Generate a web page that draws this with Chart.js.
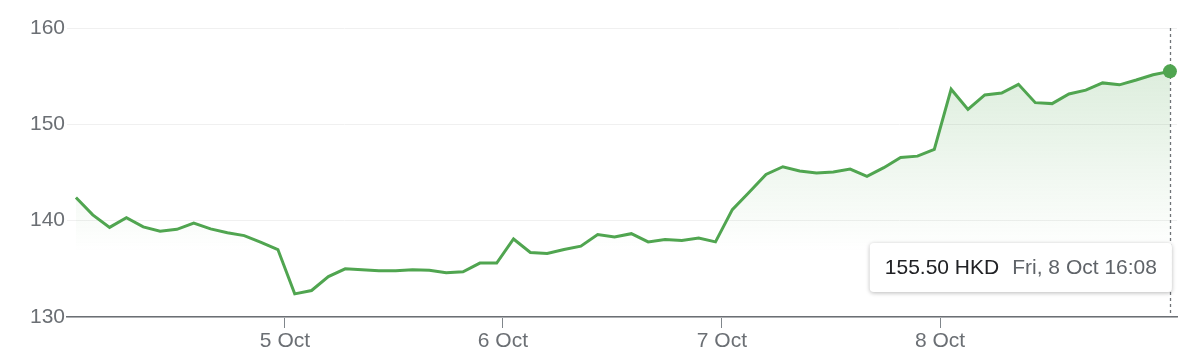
<!DOCTYPE html>
<html>
<head>
<meta charset="utf-8">
<script src="https://cdn.jsdelivr.net/npm/chart.js@4.4.1/dist/chart.umd.min.js"></script>
<style>
    html, body { margin: 0; padding: 0; background: #ffffff; }
    #wrap { width: 1188px; height: 364px; position: relative; }
</style>
</head>
<body>
<div id="wrap"><canvas id="chart"></canvas></div>
<script>
// 30-minute closes, 4 Oct - 8 Oct (index = sample number)
const prices = [
    142.4, 140.6, 139.3, 140.3, 139.35, 138.9, 139.1, 139.75, 139.15, 138.75, 138.45, 137.75, 137.0,
    132.4, 132.75, 134.2, 135.0, 134.9, 134.8, 134.8, 134.9, 134.85, 134.6, 134.7, 135.6, 135.6,
    138.1, 136.7, 136.6, 137.0, 137.35, 138.55, 138.3, 138.65, 137.8, 138.05, 137.95, 138.2, 137.8,
    141.15, 142.95, 144.8, 145.6, 145.15, 144.95, 145.05, 145.35, 144.6, 145.5, 146.55, 146.7, 147.4,
    153.65, 151.55, 153.05, 153.25, 154.15, 152.25, 152.15, 153.15, 153.55, 154.3, 154.1, 154.6, 155.15, 155.5,
];

const dayTickPositions = [12.42, 25.37, 38.38, 51.34];
const dayTickLabels = ['5 Oct', '6 Oct', '7 Oct', '8 Oct'];
const yTicks = [130, 140, 150, 160];

const currency = 'HKD';
const lastTimeLabel = 'Fri, 8 Oct 16:08';

const lineColor = '#50a550';
const textGray = '#6b6f74';
const fontFamily = '"Liberation Sans", Arial, Helvetica, sans-serif';

const points = prices.map((v, i) => ({ x: i, y: v }));
const lastIndex = points.length - 1;

// dashed cursor line + price box for the last point
const hoverBox = {
    id: 'hoverBox',
    afterDatasetsDraw(chart) {
        const { ctx, chartArea } = chart;
        const meta = chart.getDatasetMeta(0);
        const pt = meta.data[lastIndex];
        const x = Math.round(pt.x) + 0.5;

        ctx.save();
        ctx.strokeStyle = '#6f7377';
        ctx.lineWidth = 1.3;
        ctx.setLineDash([3, 3]);
        ctx.beginPath();
        ctx.moveTo(x, chartArea.top);
        ctx.lineTo(x, chartArea.bottom);
        ctx.stroke();
        ctx.restore();

        // redraw last point on top of the dashed line
        ctx.save();
        ctx.fillStyle = lineColor;
        ctx.beginPath();
        ctx.arc(pt.x, pt.y, 7, 0, Math.PI * 2);
        ctx.fill();
        ctx.restore();

        const priceText = prices[lastIndex].toFixed(2) + ' ' + currency;
        ctx.save();
        ctx.font = '21px ' + fontFamily;
        const w1 = ctx.measureText(priceText).width;
        const w2 = ctx.measureText(lastTimeLabel).width;
        const padX = 15;
        const gap = 13;
        const boxW = padX * 2 + w1 + gap + w2;
        const boxH = 49;
        const right = pt.x + 2;
        const left = right - boxW;
        const top = chartArea.bottom - 25 - boxH;

        ctx.shadowColor = 'rgba(0,0,0,0.28)';
        ctx.shadowBlur = 4;
        ctx.shadowOffsetY = 1;
        ctx.fillStyle = '#ffffff';
        ctx.beginPath();
        ctx.roundRect(left, top, boxW, boxH, 4);
        ctx.fill();
        ctx.shadowColor = 'transparent';

        ctx.textBaseline = 'middle';
        ctx.textAlign = 'left';
        ctx.fillStyle = '#202124';
        ctx.fillText(priceText, left + padX, top + boxH / 2 + 1);
        ctx.fillStyle = '#5f6368';
        ctx.fillText(lastTimeLabel, left + padX + w1 + gap, top + boxH / 2 + 1);
        ctx.restore();
    },
};

const canvas = document.getElementById('chart');

new Chart(canvas, {
    type: 'line',
    data: {
        datasets: [
            {
                data: points,
                borderColor: lineColor,
                borderWidth: 3,
                tension: 0,
                pointRadius: 0,
                pointHoverRadius: 0,
                fill: 'start',
                backgroundColor: (context) => {
                    const area = context.chart.chartArea;
                    if (!area) {
                        return 'rgba(80,165,80,0.15)';
                    }
                    const g = context.chart.ctx.createLinearGradient(0, area.top, 0, 252);
                    g.addColorStop(0, 'rgba(80,165,80,0.24)');
                    g.addColorStop(1, 'rgba(80,165,80,0)');
                    return g;
                },
            },
        ],
    },
    options: {
        responsive: true,
        maintainAspectRatio: false,
        animation: false,
        events: [],
        layout: {
            padding: { top: 28, right: 11, left: 0, bottom: 0 },
        },
        plugins: {
            legend: { display: false },
            tooltip: { enabled: false },
        },
        scales: {
            x: {
                type: 'linear',
                min: -0.53,
                max: 65.42,
                afterBuildTicks: (scale) => {
                    scale.ticks = dayTickPositions.map((v) => ({ value: v }));
                },
                afterFit: (scale) => {
                    scale.height = 47;
                },
                ticks: {
                    autoSkip: false,
                    maxRotation: 0,
                    padding: 1,
                    color: textGray,
                    font: { family: fontFamily, size: 21 },
                    callback: (value, index) => dayTickLabels[index],
                },
                grid: {
                    drawOnChartArea: false,
                    drawTicks: true,
                    tickLength: 11,
                    color: '#80868b',
                    lineWidth: 1,
                },
                border: {
                    display: true,
                    color: '#6b6f74',
                    width: 1.5,
                },
            },
            y: {
                min: 130,
                max: 160,
                afterBuildTicks: (scale) => {
                    scale.ticks = yTicks.map((v) => ({ value: v }));
                },
                afterFit: (scale) => {
                    scale.width = 67;
                },
                ticks: {
                    padding: 2,
                    color: textGray,
                    font: { family: fontFamily, size: 21 },
                },
                grid: {
                    drawTicks: false,
                    color: '#f0f0f0',
                    lineWidth: 1,
                },
                border: { display: false },
            },
        },
    },
    plugins: [hoverBox],
});
</script>
</body>
</html>
